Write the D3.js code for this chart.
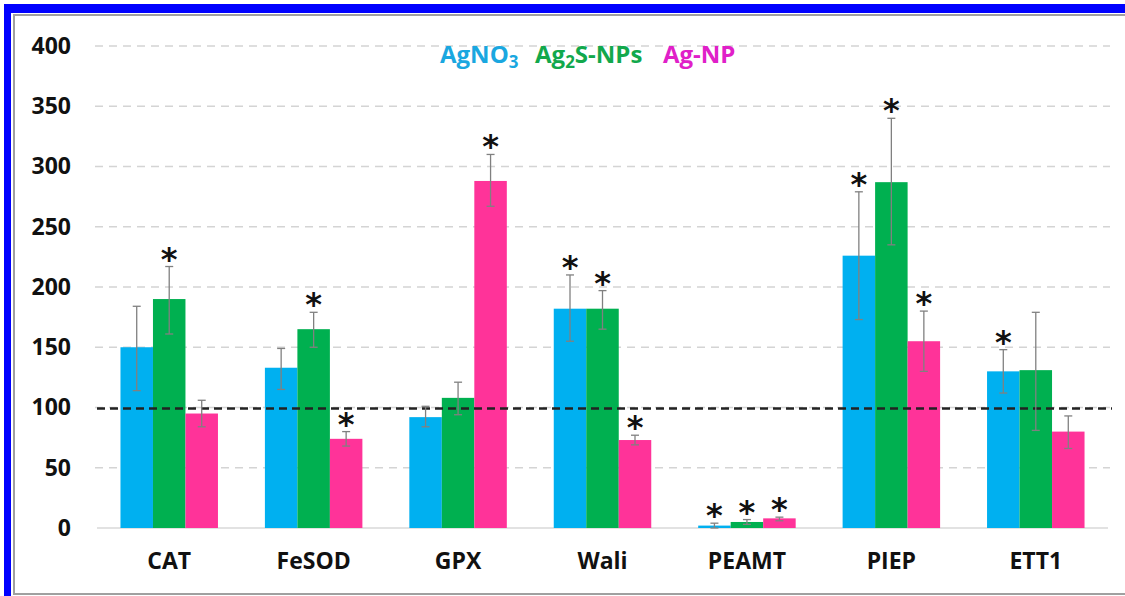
<!DOCTYPE html>
<html><head><meta charset="utf-8">
<script src="https://cdn.jsdelivr.net/npm/d3@7"></script>
<style>html,body{margin:0;padding:0;background:#fff;}svg{display:block;}</style>
</head><body>
<script>
const categories = ["CAT","FeSOD","GPX","Wali","PEAMT","PIEP","ETT1"];
const seriesNames = ["AgNO3","Ag2S-NPs","Ag-NP"];
const agno3 = [150,133,92,182,2,226,130];
const agno3Err = [[114,184],[115,149],[84,101],[155,210],[0,4],[173,279],[112,148]];
const agno3Star = [false,false,false,true,true,true,true];
const ag2s = [190,165,108,182,5,287,131];
const ag2sErr = [[161,217],[150,179],[94,121],[165,197],[3,7],[235,340],[81,179]];
const ag2sStar = [true,true,false,true,true,true,false];
const agnp = [95,74,288,73,8,155,80];
const agnpErr = [[84,106],[68,80],[267,310],[69,77],[6,9],[130,180],[66,93]];
const agnpStar = [false,true,true,true,true,true,false];
const yTicks = [0,50,100,150,200,250,300,350,400];
const refLine = 100;

const W=1125,H=596;
const colors = ["#00b0f0","#00b050","#ff3399"];
const legendColors = ["#1aa7e0","#12a84c","#e020c8"];
const series = [
  {vals:agno3,err:agno3Err,star:agno3Star},
  {vals:ag2s,err:ag2sErr,star:ag2sStar},
  {vals:agnp,err:agnpErr,star:agnpStar}
];

const svg = d3.select("body").append("svg").attr("width",W).attr("height",H);
svg.append("rect").attr("x",0).attr("y",0).attr("width",W).attr("height",H).attr("fill","#fff");
// frame (blue top + left, thin gray inner line)
svg.append("rect").attr("x",4).attr("y",4).attr("width",W-4).attr("height",9).attr("fill","#0000ff");
svg.append("rect").attr("x",4).attr("y",4).attr("width",7).attr("height",H-4).attr("fill","#0000ff");
svg.append("path").attr("d",`M${W},15 H14 V594 H${W}`)
  .attr("fill","none").attr("stroke","#a0a0a0").attr("stroke-width",2);

const x0 = d3.scaleBand().domain(categories).range([97,1108]).paddingInner(0.325).paddingOuter(0.1625);
const x1 = d3.scaleBand().domain(d3.range(3)).range([0,x0.bandwidth()]);
const y = d3.scaleLinear().domain([0,400]).range([528,46]);

const font = "'Open Sans', 'Liberation Sans', sans-serif";

// gridlines
svg.append("g").selectAll("line").data(yTicks.filter(t=>t>0)).join("line")
  .attr("x1",95).attr("x2",1110).attr("y1",d=>y(d)).attr("y2",d=>y(d))
  .attr("stroke","#d4d4d4").attr("stroke-width",1.3).attr("stroke-dasharray","8,6");
// baseline
svg.append("line").attr("x1",97).attr("x2",1108).attr("y1",y(0)).attr("y2",y(0))
  .attr("stroke","#d9d9d9").attr("stroke-width",1.3);

// y axis labels
const yAxis = d3.axisLeft(y).tickValues(yTicks).tickSize(0).tickPadding(0);
const yg = svg.append("g").attr("transform","translate(71,0)").call(yAxis);
yg.select(".domain").remove();
yg.selectAll("text").attr("font-family",font).attr("font-weight","bold").attr("font-size",23).attr("fill","#111");

// x axis labels
const xAxis = d3.axisBottom(x0).tickSize(0).tickPadding(0);
const xg = svg.append("g").attr("transform","translate(0,553)").call(xAxis);
xg.select(".domain").remove();
xg.selectAll("text").attr("font-family",font).attr("font-weight","bold").attr("font-size",23).attr("fill","#111");

// bars
const groups = svg.append("g").selectAll("g").data(categories).join("g")
  .attr("transform",d=>`translate(${x0(d)},0)`);
series.forEach((s,si)=>{
  groups.append("rect")
    .attr("x",x1(si)).attr("width",x1.bandwidth())
    .attr("y",(d,i)=>y(s.vals[i])).attr("height",(d,i)=>y(0)-y(s.vals[i]))
    .attr("fill",colors[si]);
});
// ref dashed line
svg.append("line").attr("x1",97).attr("x2",1112).attr("y1",y(refLine)+1).attr("y2",y(refLine)+1)
  .attr("stroke","#222").attr("stroke-width",2.5).attr("stroke-dasharray","8,5");
// error bars and stars
series.forEach((s,si)=>{
  const cx = i=>x0(categories[i])+x1(si)+x1.bandwidth()/2;
  const eg = svg.append("g");
  categories.forEach((c,i)=>{
    const [lo,hi]=s.err[i];
    eg.append("line").attr("x1",cx(i)).attr("x2",cx(i)).attr("y1",y(lo)).attr("y2",y(hi)).attr("stroke","#808080").attr("stroke-width",1.3);
    eg.append("line").attr("x1",cx(i)-4).attr("x2",cx(i)+4).attr("y1",y(hi)).attr("y2",y(hi)).attr("stroke","#808080").attr("stroke-width",1.3);
    eg.append("line").attr("x1",cx(i)-4).attr("x2",cx(i)+4).attr("y1",y(lo)).attr("y2",y(lo)).attr("stroke","#808080").attr("stroke-width",1.3);
    if(s.star[i]){
      eg.append("text").attr("x",cx(i)).attr("y",y(hi)+3).attr("text-anchor","middle")
        .attr("font-family","'DejaVu Sans', sans-serif").attr("font-weight","bold").attr("font-size",32).attr("fill","#111").text("*");
    }
  });
});

// legend
const parts = [
  [["AgNO",0],["3",1]],
  [["Ag",0],["2",1],["S-NPs",0]],
  [["Ag-NP",0]]
];
const legX = [440,535,663];
parts.forEach((p,pi)=>{
  const leg = svg.append("text").attr("x",legX[pi]).attr("y",63)
    .attr("font-family",font).attr("font-weight","bold").attr("font-size",24).attr("fill",legendColors[pi]);
  p.forEach(([t,sub],k)=>{
    const ts = leg.append("tspan").text(t);
    if(sub){ts.attr("font-size",17).attr("dy",5);}
    else if(k>0 && p[k-1][1]){ts.attr("dy",-5);}
  });
});
</script>
</body></html>
